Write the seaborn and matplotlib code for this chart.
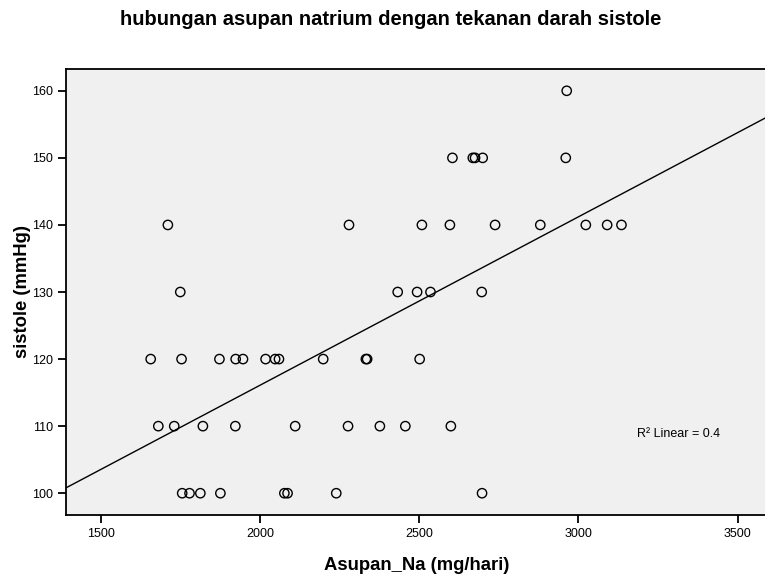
import numpy as np
import pandas as pd
import seaborn as sns
import matplotlib.pyplot as plt

# values
asupan_na = [
    1755, 1778, 1812, 1875, 2076, 2086, 2239, 2697,
    1680, 1730, 1820, 1922, 2110, 2276, 2376, 2456, 2599,
    1656, 1753, 1872, 1923, 1946, 2017, 2047, 2059, 2198, 2332, 2336, 2501,
    1749, 2432, 2493, 2535, 2696,
    1710, 2279, 2508, 2596, 2738, 2880, 3023, 3090, 3135,
    2604, 2668, 2675, 2699, 2960,
    2963,
]
sistole = (
    [100] * 8
    + [110] * 9
    + [120] * 12
    + [130] * 5
    + [140] * 9
    + [150] * 5
    + [160] * 1
)
x_ticks = [1500, 2000, 2500, 3000, 3500]
y_ticks = [100, 110, 120, 130, 140, 150, 160]
r2_label = "R² Linear = 0.4"

df = pd.DataFrame({"Asupan_Na": asupan_na, "sistole": sistole})

sns.set_style("ticks")
plt.rcParams["font.family"] = ["Liberation Sans", "DejaVu Sans"]
plt.rcParams["text.color"] = "black"
plt.rcParams["axes.labelcolor"] = "black"

fig = plt.figure(figsize=(7.65, 5.77), dpi=100)
ax = fig.add_axes([0.0867, 0.108, 0.915, 0.773])
ax.set_facecolor("#f0f0f0")
ax.set_xlim(1391, 3590)
ax.set_ylim(96.8, 163.3)

sns.scatterplot(data=df, x="Asupan_Na", y="sistole", ax=ax, s=45,
                facecolor="none", edgecolor="black", linewidth=1.0, zorder=3)
sns.regplot(data=df, x="Asupan_Na", y="sistole", ax=ax, scatter=False,
            ci=None, truncate=False, color="black", line_kws={"linewidth": 1.0})

ax.set_xlim(1391, 3590)
ax.set_ylim(96.8, 163.3)
ax.set_xticks(x_ticks)
ax.set_yticks(y_ticks)
ax.tick_params(axis="both", direction="out", length=6, width=1.3,
               labelsize=9, colors="black")
for side in ["left", "bottom", "top", "right"]:
    ax.spines[side].set_visible(True)
    ax.spines[side].set_linewidth(1.3)
    ax.spines[side].set_color("black")

ax.set_xlabel("Asupan_Na (mg/hari)", fontsize=13.3, fontweight="bold", labelpad=12)
ax.set_ylabel("sistole (mmHg)", fontsize=13.3, fontweight="bold", labelpad=1)
ax.text(3183, 108.8, r2_label, fontsize=9, va="center", ha="left")

fig.suptitle("hubungan asupan natrium dengan tekanan darah sistole",
             fontsize=14.5, fontweight="bold", x=0.511, y=0.982)

plt.savefig("out.png", dpi=100)
